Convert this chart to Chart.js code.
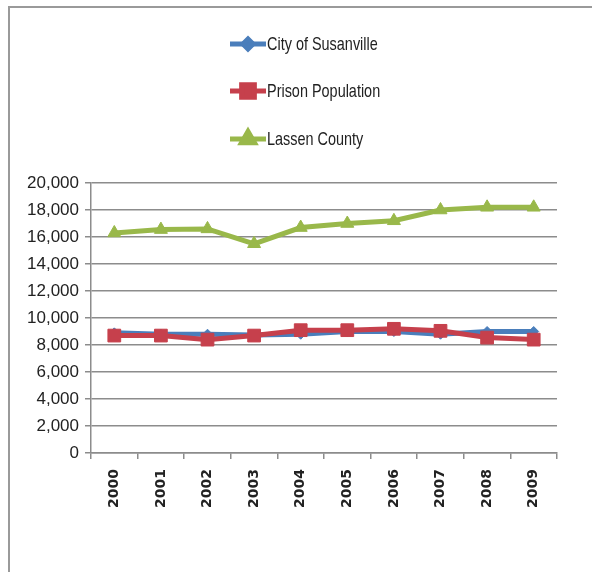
<!DOCTYPE html>
<html>
<head>
<meta charset="utf-8">
<script src="https://cdn.jsdelivr.net/npm/chart.js@4.4.1/dist/chart.umd.min.js"></script>
<style>
  html, body { margin: 0; padding: 0; background: #fff; }
  #wrap { position: relative; width: 592px; height: 572px; }
  #frame { position: absolute; left: 8px; top: 6px; width: 600px; height: 600px;
           border-left: 2px solid #9a9a9a; border-top: 2px solid #9a9a9a; }
  canvas { position: absolute; left: 0; top: 0; }
</style>
</head>
<body>
<div id="wrap">
  <div id="frame"></div>
  <canvas id="popChart" width="592" height="572"></canvas>
</div>
<script>
// population by year
const years = ['2000', '2001', '2002', '2003', '2004', '2005', '2006', '2007', '2008', '2009'];
const susanville = [8900, 8800, 8800, 8750, 8800, 9000, 9000, 8800, 9000, 9000];
const prison = [8700, 8700, 8400, 8700, 9100, 9100, 9200, 9050, 8550, 8400];
const lassen = [16300, 16550, 16600, 15500, 16700, 17000, 17200, 18000, 18200, 18200];
const yTicks = [0, 2000, 4000, 6000, 8000, 10000, 12000, 14000, 16000, 18000, 20000];

const gridColor = '#8c8c8c';

// vertical legend, one entry per row, above the plot
const stackedLegend = {
  id: 'stackedLegend',
  afterDraw(chart) {
    const ctx = chart.ctx;
    const rows = [44, 91, 139];
    ctx.save();
    chart.data.datasets.forEach((ds, i) => {
      const y = rows[i];
      ctx.strokeStyle = ds.borderColor;
      ctx.lineWidth = 5;
      ctx.beginPath();
      ctx.moveTo(230, y);
      ctx.lineTo(266, y);
      ctx.stroke();
      ctx.fillStyle = ds.backgroundColor;
      ctx.strokeStyle = ds.borderColor;
      Chart.helpers.drawPoint(ctx, {
        pointStyle: ds.pointStyle, radius: ds.pointRadius, rotation: 0, borderWidth: 1
      }, 248, y);
      // condensed label text
      ctx.save();
      ctx.translate(267, y + 1);
      ctx.scale(0.76, 1);
      ctx.fillStyle = '#222';
      ctx.font = '19px "Liberation Sans", sans-serif';
      ctx.textBaseline = 'middle';
      ctx.textAlign = 'left';
      ctx.fillText(ds.label, 0, 0);
      ctx.restore();
    });
    ctx.restore();
  }
};

new Chart(document.getElementById('popChart'), {
  type: 'line',
  data: {
    labels: years,
    datasets: [
      {
        label: 'City of Susanville', data: susanville, order: 1,
        borderColor: '#4a7ebb', backgroundColor: '#4a7ebb', borderWidth: 5,
        pointStyle: 'rectRot', pointRadius: 5, pointBorderWidth: 1
      },
      {
        label: 'Prison Population', data: prison, order: 0,
        borderColor: '#c6404c', backgroundColor: '#c6404c', borderWidth: 5,
        pointStyle: 'rect', pointRadius: 9, pointBorderWidth: 1
      },
      {
        label: 'Lassen County', data: lassen, order: 2,
        borderColor: '#99b84a', backgroundColor: '#99b84a', borderWidth: 5,
        pointStyle: 'triangle', pointRadius: 7.5, pointBorderWidth: 1
      }
    ]
  },
  options: {
    responsive: false,
    animation: false,
    layout: { padding: { left: 20, right: 35, top: 183, bottom: 54 } },
    plugins: { legend: { display: false }, tooltip: { enabled: false } },
    elements: { line: { tension: 0 } },
    scales: {
      x: {
        offset: true,
        grid: { offset: true, drawOnChartArea: false, color: gridColor, lineWidth: 1.5, tickLength: 6 },
        border: { color: gridColor, width: 1.5 },
        ticks: {
          minRotation: 90, maxRotation: 90, padding: 10, color: '#222',
          font: { family: '"DejaVu Sans", sans-serif', size: 14, weight: 'bold' }
        }
      },
      y: {
        min: 0, max: 20000,
        afterBuildTicks(scale) { scale.ticks = yTicks.map(v => ({ value: v })); },
        afterFit(scale) { scale.width = 71; },
        grid: { color: gridColor, lineWidth: 1.5, tickLength: 6 },
        border: { color: gridColor, width: 1.5 },
        ticks: {
          padding: 6, color: '#222',
          font: { family: '"Liberation Sans", sans-serif', size: 17 }
        }
      }
    }
  },
  plugins: [stackedLegend]
});
</script>
</body>
</html>
